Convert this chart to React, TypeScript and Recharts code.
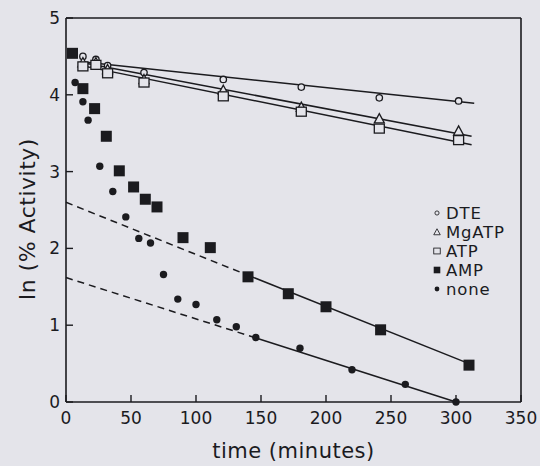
import React from 'react';
import { ComposedChart, Scatter, Line, XAxis, YAxis, ReferenceLine } from 'recharts';

const INK = '#1b1b1f';
const PAPER = '#e4e4ea';
const FONT = '"DejaVu Sans", sans-serif';

const X_TICKS = [0, 50, 100, 150, 200, 250, 300, 350];
const Y_TICKS = [0, 1, 2, 3, 4, 5];

// protected samples (minutes, ln % activity)
const DTE = [
  { t: 13, v: 4.5 }, { t: 23, v: 4.46 }, { t: 32, v: 4.38 }, { t: 60, v: 4.29 },
  { t: 121, v: 4.2 }, { t: 181, v: 4.1 }, { t: 241, v: 3.96 }, { t: 302, v: 3.92 },
];
const MGATP = [
  { t: 13, v: 4.42 }, { t: 23, v: 4.42 }, { t: 32, v: 4.33 }, { t: 60, v: 4.2 },
  { t: 121, v: 4.06 }, { t: 181, v: 3.84 }, { t: 241, v: 3.69 }, { t: 302, v: 3.53 },
];
const ATP = [
  { t: 13, v: 4.37 }, { t: 23, v: 4.39 }, { t: 32, v: 4.28 }, { t: 60, v: 4.16 },
  { t: 121, v: 3.98 }, { t: 181, v: 3.78 }, { t: 241, v: 3.56 }, { t: 302, v: 3.41 },
];
const AMP = [
  { t: 5, v: 4.54 }, { t: 13, v: 4.08 }, { t: 22, v: 3.82 }, { t: 31, v: 3.46 },
  { t: 41, v: 3.01 }, { t: 52, v: 2.8 }, { t: 61, v: 2.64 }, { t: 70, v: 2.54 },
  { t: 90, v: 2.14 }, { t: 111, v: 2.01 }, { t: 140, v: 1.63 }, { t: 171, v: 1.41 },
  { t: 200, v: 1.24 }, { t: 242, v: 0.94 }, { t: 310, v: 0.48 },
];
const NONE = [
  { t: 7, v: 4.16 }, { t: 13, v: 3.91 }, { t: 17, v: 3.67 }, { t: 26, v: 3.07 },
  { t: 36, v: 2.74 }, { t: 46, v: 2.41 }, { t: 56, v: 2.13 }, { t: 65, v: 2.07 },
  { t: 75, v: 1.66 }, { t: 86, v: 1.34 }, { t: 100, v: 1.27 }, { t: 116, v: 1.07 },
  { t: 131, v: 0.98 }, { t: 146, v: 0.84 }, { t: 180, v: 0.7 }, { t: 220, v: 0.42 },
  { t: 261, v: 0.23 }, { t: 300, v: 0 },
];

// fitted lines (end points)
const DTE_FIT = [{ t: 12, v: 4.43 }, { t: 314, v: 3.89 }];
const MGATP_FIT = [{ t: 12, v: 4.42 }, { t: 312, v: 3.46 }];
const ATP_FIT = [{ t: 12, v: 4.38 }, { t: 312, v: 3.35 }];
const AMP_FIT_EXTRAP = [{ t: 0, v: 2.6 }, { t: 140, v: 1.65 }];
const AMP_FIT = [{ t: 140, v: 1.65 }, { t: 310, v: 0.5 }];
const NONE_FIT_EXTRAP = [{ t: 0, v: 1.62 }, { t: 145, v: 0.84 }];
const NONE_FIT = [{ t: 145, v: 0.84 }, { t: 300, v: 0 }];

const LEGEND = ['DTE', 'MgATP', 'ATP', 'AMP', 'none'];

// ── marker shapes ─────────────────────────────────────────────
function OpenCircle(p: any) {
  return <circle cx={p.cx} cy={p.cy} r={3.2} fill={PAPER} stroke={INK} strokeWidth={1.3} />;
}
function OpenTriangle(p: any) {
  const s = 5;
  return (
    <path d={`M${p.cx},${p.cy - s} L${p.cx + s},${p.cy + s * 0.85} L${p.cx - s},${p.cy + s * 0.85} Z`}
      fill={PAPER} stroke={INK} strokeWidth={1.3} />
  );
}
function OpenSquare(p: any) {
  return <rect x={p.cx - 5} y={p.cy - 4.5} width={10} height={9} fill={PAPER} stroke={INK} strokeWidth={1.3} />;
}
function FilledSquare(p: any) {
  return <rect x={p.cx - 5.5} y={p.cy - 5.5} width={11} height={11} fill={INK} />;
}
function FilledCircle(p: any) {
  return <circle cx={p.cx} cy={p.cy} r={3.7} fill={INK} />;
}

const SHAPES = [OpenCircle, OpenTriangle, OpenSquare, FilledSquare, FilledCircle];

function YTitle() {
  return (
    <text x={27} y={219} transform="rotate(-90 27 219)" textAnchor="middle" dominantBaseline="central"
      fill={INK} fontFamily={FONT} fontSize={22} letterSpacing={0.5}>
      ln (% Activity)
    </text>
  );
}

function LegendBox() {
  return (
    <svg width={110} height={110} style={{ position: 'absolute', left: 425, top: 200 }}>
      {LEGEND.map((name, i) => {
        const Shape = SHAPES[i];
        const cy = 13 + i * 19;
        const scale = i === 3 ? 0.6 : 0.65;
        return (
          <g key={name}>
            <g transform={`translate(12 ${cy}) scale(${scale}) translate(-12 ${-cy})`}>
              <Shape cx={12} cy={cy} />
            </g>
            <text x={21} y={cy} dominantBaseline="central" fill={INK} fontFamily={FONT} fontSize={16.5}
              letterSpacing={0.8}>{name}</text>
          </g>
        );
      })}
    </svg>
  );
}

export default function App() {
  const tick = { fill: INK, fontSize: 17, fontFamily: FONT };
  const fit = { stroke: INK, strokeWidth: 1.5, dot: false, isAnimationActive: false, legendType: 'none' as const };
  return (
    <div style={{ position: 'absolute', left: 0, top: 0, width: 540, height: 466, background: PAPER }}>
      <ComposedChart width={540} height={466} margin={{ top: 18, right: 19, bottom: 0, left: 0 }}>
        <XAxis dataKey="t" type="number" domain={[0, 350]} ticks={X_TICKS} interval={0}
          height={64} tick={tick} tickSize={-7} tickMargin={17}
          axisLine={{ stroke: INK, strokeWidth: 1.6 }} tickLine={{ stroke: INK, strokeWidth: 1.4 }}
          label={{ value: 'time (minutes)', position: 'insideBottom', offset: 8, fill: INK,
            fontSize: 21, fontFamily: FONT, letterSpacing: 0.5 }} />
        <YAxis dataKey="v" type="number" domain={[0, 5]} ticks={Y_TICKS} interval={0}
          width={66} tick={tick} tickSize={-7} tickMargin={13}
          axisLine={{ stroke: INK, strokeWidth: 1.6 }} tickLine={{ stroke: INK, strokeWidth: 1.4 }}
          label={<YTitle />} />
        <ReferenceLine y={5} stroke={INK} strokeWidth={1.6} />
        <ReferenceLine x={350} stroke={INK} strokeWidth={1.6} />

        <Line data={DTE_FIT} dataKey="v" {...fit} />
        <Line data={MGATP_FIT} dataKey="v" {...fit} />
        <Line data={ATP_FIT} dataKey="v" {...fit} />
        <Line data={AMP_FIT_EXTRAP} dataKey="v" {...fit} strokeDasharray="7 5" />
        <Line data={AMP_FIT} dataKey="v" {...fit} />
        <Line data={NONE_FIT_EXTRAP} dataKey="v" {...fit} strokeDasharray="7 5" />
        <Line data={NONE_FIT} dataKey="v" {...fit} />

        <Scatter data={DTE} dataKey="v" shape={OpenCircle} isAnimationActive={false} />
        <Scatter data={MGATP} dataKey="v" shape={OpenTriangle} isAnimationActive={false} />
        <Scatter data={ATP} dataKey="v" shape={OpenSquare} isAnimationActive={false} />
        <Scatter data={AMP} dataKey="v" shape={FilledSquare} isAnimationActive={false} />
        <Scatter data={NONE} dataKey="v" shape={FilledCircle} isAnimationActive={false} />
      </ComposedChart>
      <LegendBox />
    </div>
  );
}
